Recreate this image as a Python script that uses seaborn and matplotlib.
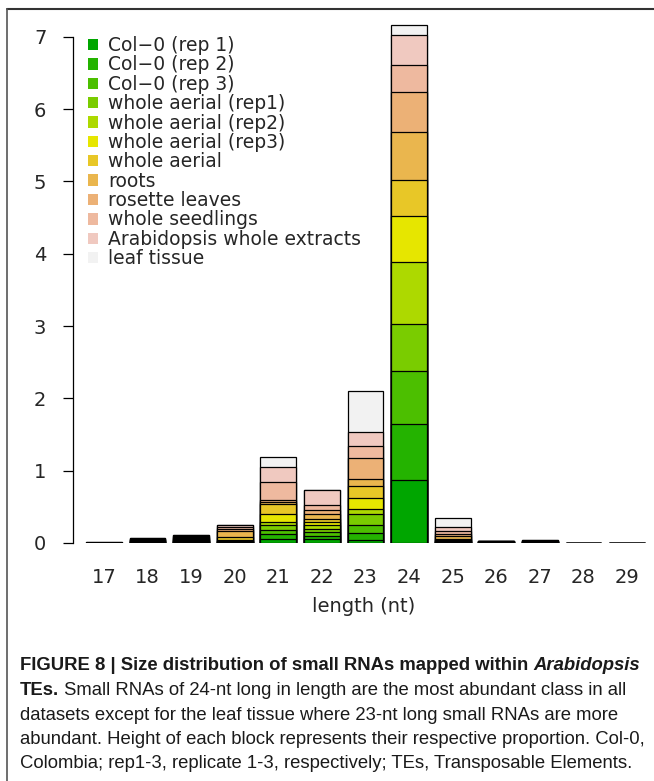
import matplotlib
matplotlib.use("Agg")
import numpy as np
import matplotlib.pyplot as plt
import seaborn as sns
from matplotlib.patches import Patch
from matplotlib.lines import Line2D

# --- data: share of each library per small-RNA length ---
lengths = ["17", "18", "19", "20", "21", "22", "23", "24", "25", "26", "27", "28", "29"]
datasets = ["Col\u22120 (rep 1)", "Col\u22120 (rep 2)", "Col\u22120 (rep 3)",
            "whole aerial (rep1)", "whole aerial (rep2)", "whole aerial (rep3)",
            "whole aerial", "roots", "rosette leaves", "whole seedlings",
            "Arabidopsis whole extracts", "leaf tissue"]

col0_rep1 = [0.001, 0.008, 0.008, 0.006, 0.055, 0.050, 0.046, 0.867, 0.006, 0.004, 0.004, 0.0005, 0.0005]
col0_rep2 = [0.001, 0.007, 0.008, 0.006, 0.065, 0.050, 0.094, 0.785, 0.006, 0.004, 0.004, 0.0005, 0.0005]
col0_rep3 = [0.001, 0.007, 0.008, 0.006, 0.064, 0.050, 0.110, 0.725, 0.006, 0.004, 0.004, 0.0005, 0.0005]
aerial_rep1 = [0.0005, 0.006, 0.007, 0.006, 0.066, 0.045, 0.150, 0.647, 0.006, 0.003, 0.004, 0.0005, 0.0005]
aerial_rep2 = [0.0005, 0.006, 0.007, 0.006, 0.035, 0.050, 0.070, 0.866, 0.006, 0.003, 0.003, 0.0005, 0.0005]
aerial_rep3 = [0.0005, 0.005, 0.007, 0.010, 0.115, 0.040, 0.150, 0.625, 0.006, 0.002, 0.003, 0.0005, 0.0005]
aerial = [0.0005, 0.006, 0.010, 0.045, 0.140, 0.050, 0.170, 0.510, 0.024, 0.002, 0.003, 0.0005, 0.0005]
roots = [0.0005, 0.006, 0.012, 0.085, 0.020, 0.065, 0.096, 0.655, 0.035, 0.002, 0.003, 0.0005, 0.0005]
rosette = [0.0005, 0.005, 0.012, 0.025, 0.040, 0.060, 0.284, 0.550, 0.030, 0.002, 0.003, 0.0005, 0.0005]
seedlings = [0.0005, 0.005, 0.015, 0.025, 0.250, 0.066, 0.170, 0.385, 0.040, 0.002, 0.002, 0.0005, 0.0005]
extracts = [0.0005, 0.005, 0.016, 0.030, 0.200, 0.204, 0.190, 0.410, 0.050, 0.002, 0.002, 0.0005, 0.0005]
leaf = [0.0005, 0.002, 0.0, 0.0, 0.140, 0.0, 0.570, 0.140, 0.135, 0.0, 0.0, 0.0005, 0.0005]

# R terrain.colors(12)
colors = ["#00A600", "#24B300", "#4CBF00", "#7ACC00", "#ADD900", "#E6E600",
          "#E8C727", "#EAB64E", "#ECB176", "#EEB99F", "#F0C9C0", "#F2F2F2"]

sns.set_theme(style="white")
plt.rcParams["font.family"] = ["DejaVu Sans"]

W, H = 654, 781
fig = plt.figure(figsize=(W / 100, H / 100), dpi=100)
ax = fig.add_axes([73 / W, 1 - 543 / H, 1 - 73 / W, (543 - 15) / H])

# stacked bars: draw cumulative totals from the top layer down
series = [col0_rep1, col0_rep2, col0_rep3, aerial_rep1, aerial_rep2, aerial_rep3,
          aerial, roots, rosette, seedlings, extracts, leaf]
cum = np.cumsum(np.array(series), axis=0)
for i in range(len(series) - 1, -1, -1):
    sns.barplot(x=lengths, y=cum[i], order=lengths, color=colors[i], saturation=1,
                edgecolor="black", linewidth=0.9, width=0.82, errorbar=None, ax=ax)

ax.set_xlim(-0.71, 12.62)
ax.set_ylim(0, 7.3)
for s in ["top", "right", "bottom"]:
    ax.spines[s].set_visible(False)
ax.spines["left"].set_bounds(0, 7)
ax.spines["left"].set_color("black")
ax.spines["left"].set_linewidth(0.9)
ax.set_yticks(range(8))
ax.tick_params(axis="y", left=True, length=7.2, width=0.9, color="black", pad=12, labelsize=14)
ax.tick_params(axis="x", bottom=False, length=0, pad=18, labelsize=14)
ax.set_xlabel("length (nt)", fontsize=14, labelpad=7)
ax.set_ylabel("")

handles = [Patch(facecolor=c, edgecolor="none") for c in colors]
ax.legend(handles, datasets, loc="upper left", bbox_to_anchor=(0.026, 0.96),
          frameon=False, fontsize=13.5, handlelength=0.55, handleheight=0.55,
          handletextpad=0.5, labelspacing=0.02, borderpad=0, borderaxespad=0)

# frame lines of the figure panel
fig.add_artist(Line2D([7 / W, 1], [1 - 8.5 / H] * 2, transform=fig.transFigure, color="#333333", lw=1.5))
fig.add_artist(Line2D([7 / W] * 2, [0, 1 - 8.5 / H], transform=fig.transFigure, color="#555555", lw=1.2))

# caption, built from pieces so bold/italic runs line up
cap_font = ["Liberation Sans Narrow", "Liberation Sans", "DejaVu Sans"]
cap_size = 13.3
caption = [
    [("FIGURE 8 | Size distribution of small RNAs mapped within ", "bold", "normal"),
     ("Arabidopsis", "bold", "italic")],
    [("TEs.", "bold", "normal"),
     (" Small RNAs of 24-nt long in length are the most abundant class in all", "normal", "normal")],
    [("datasets except for the leaf tissue where 23-nt long small RNAs are more", "normal", "normal")],
    [("abundant. Height of each block represents their respective proportion. Col-0,", "normal", "normal")],
    [("Colombia; rep1-3, replicate 1-3, respectively; TEs, Transposable Elements.", "normal", "normal")],
]
line_y = [666, 690.5, 715, 739.5, 764]
renderer = fig.canvas.get_renderer()
for pieces, y in zip(caption, line_y):
    x = 20
    for txt, wt, st in pieces:
        t = fig.text(x / W, 1 - y / H, txt, fontsize=cap_size, family=cap_font,
                     weight=wt, style=st, va="center", ha="left", color="#1a1a1a")
        x = t.get_window_extent(renderer).x1

fig.savefig("out.png", dpi=100)
